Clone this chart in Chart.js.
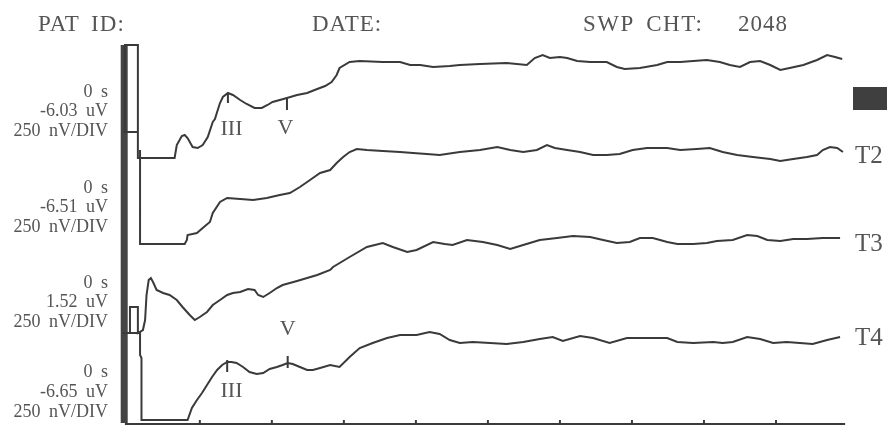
<!DOCTYPE html>
<html>
<head>
<meta charset="utf-8">
<script src="https://cdn.jsdelivr.net/npm/chart.js@4.4.1/dist/chart.umd.min.js"></script>
<style>
  html,body{margin:0;padding:0;background:#fff;}
  #wrap{position:relative;width:889px;height:427px;overflow:hidden;background:#fff;}
  #wrap canvas{position:absolute;left:0;top:0;}
  .t{position:absolute;font-family:"Liberation Serif","DejaVu Serif",serif;color:#555;white-space:nowrap;line-height:1;}
  .hdr{font-size:23px;letter-spacing:1px;}
  .lab{font-size:18px;word-spacing:4px;text-align:right;right:781px;}
  .tr{font-size:25px;left:855px;}
  .mk{font-size:22px;}
  #blk{position:absolute;left:853px;top:87px;width:34px;height:23px;background:#3f3f3f;}
</style>
</head>
<body>
<div id="wrap">
  <canvas id="c" width="889" height="427"></canvas>
  <div class="t hdr" style="left:38px;top:12px;word-spacing:5px;">PAT ID:</div>
  <div class="t hdr" style="left:312px;top:12px;">DATE:</div>
  <div class="t hdr" style="left:583px;top:12px;word-spacing:5px;letter-spacing:1.5px;">SWP CHT:</div>
  <div class="t hdr" style="left:738px;top:12px;">2048</div>
  <div id="blk"></div>
  <div id="leftLabels"></div>
  <div id="rightLabels"></div>
  <div id="markLabels"></div>
</div>
<script>
// ---- time axis (ms) ----
const xMin = -0.15, xMax = 10;
const tickTimes = [1, 2, 3, 4, 5, 6, 7, 8, 9];

// ---- per-trace baselines (uV, vertical stacking offsets) ----
const traceNames = ["T1", "T2", "T3", "T4"];
const traceOffsets = [2.66, 1.80, 0.91, 0.04];

// ---- left side labels ----
const startTimes = ["0 s", "0 s", "0 s", "0 s"];
const startLevels = ["-6.03 uV", "-6.51 uV", "1.52 uV", "-6.65 uV"];
const scaleLabels = ["250 nV/DIV", "250 nV/DIV", "250 nV/DIV", "250 nV/DIV"];

// ---- trace 1 ----
const t1Time = [0.14,-0.04,-0.04,0.14,0.14,0.65,0.68,0.75,0.79,0.83,0.90,0.97,1.04,1.11,1.18,1.21,1.24,1.28,1.32,1.39,1.46,1.56,1.65,1.76,1.86,1.94,2.01,2.11,2.21,2.35,2.49,2.63,2.74,2.83,2.90,2.94,3.08,3.22,3.54,3.78,3.92,4.06,4.24,4.47,4.61,4.89,5.26,5.54,5.65,5.76,5.86,6.00,6.10,6.24,6.42,6.65,6.79,6.90,7.11,7.35,7.49,7.67,7.85,8.04,8.22,8.36,8.50,8.64,8.78,8.92,9.06,9.19,9.38,9.57,9.71,9.82,9.92];
const t1Amp  = [0.26,0.26,1.13,1.13,0,0,0.13,0.22,0.23,0.20,0.11,0.10,0.13,0.21,0.36,0.39,0.46,0.55,0.61,0.65,0.63,0.58,0.54,0.50,0.50,0.53,0.56,0.58,0.60,0.63,0.65,0.69,0.72,0.76,0.83,0.90,0.96,0.97,0.96,0.96,0.93,0.93,0.91,0.92,0.93,0.94,0.95,0.93,1.00,1.03,1.00,1.01,1.00,0.97,0.96,0.96,0.91,0.89,0.90,0.93,0.96,0.96,0.97,0.98,0.96,0.93,0.91,0.96,0.97,0.93,0.88,0.90,0.93,0.98,1.03,1.01,0.99];

// ---- trace 2 ----
const t2Time = [0.17,0.17,0.79,0.82,0.83,0.96,1.04,1.14,1.18,1.28,1.38,1.56,1.74,1.93,2.11,2.25,2.39,2.53,2.67,2.81,2.90,2.99,3.08,3.18,3.32,3.54,3.78,3.96,4.15,4.33,4.61,4.89,5.13,5.31,5.49,5.68,5.82,5.93,6.10,6.28,6.46,6.65,6.83,7.01,7.21,7.49,7.67,7.90,8.08,8.26,8.46,8.68,8.92,9.06,9.24,9.43,9.57,9.65,9.75,9.85,9.93];
const t2Amp  = [0.94,0,0,0.04,0.09,0.11,0.16,0.22,0.31,0.42,0.46,0.45,0.44,0.46,0.49,0.51,0.57,0.64,0.71,0.74,0.81,0.87,0.92,0.95,0.94,0.93,0.92,0.91,0.90,0.89,0.92,0.94,0.97,0.94,0.92,0.94,0.99,0.96,0.94,0.92,0.89,0.89,0.90,0.94,0.96,0.96,0.94,0.95,0.96,0.92,0.89,0.87,0.85,0.83,0.85,0.87,0.89,0.94,0.97,0.96,0.92];

// ---- trace 3 ----
const t3Time = [-0.08,0.03,0.03,0.14,0.14,0.21,0.24,0.26,0.29,0.32,0.35,0.40,0.49,0.58,0.68,0.76,0.86,0.93,1.00,1.10,1.18,1.28,1.38,1.46,1.56,1.67,1.76,1.81,1.88,1.97,2.07,2.15,2.25,2.35,2.49,2.63,2.81,2.85,3.08,3.32,3.54,3.68,3.88,4.01,4.24,4.40,4.51,4.71,4.93,5.13,5.31,5.49,5.72,5.96,6.18,6.42,6.60,6.79,6.97,7.11,7.29,7.49,7.63,7.85,8.04,8.18,8.40,8.60,8.74,8.88,9.06,9.24,9.43,9.65,9.89];
const t3Amp  = [0,0,0.26,0.26,0,0.03,0.13,0.38,0.53,0.55,0.51,0.43,0.40,0.38,0.33,0.26,0.18,0.13,0.16,0.21,0.28,0.33,0.38,0.40,0.41,0.44,0.43,0.38,0.36,0.40,0.45,0.48,0.50,0.52,0.55,0.58,0.63,0.66,0.76,0.86,0.90,0.86,0.81,0.83,0.91,0.89,0.88,0.93,0.91,0.88,0.84,0.88,0.93,0.95,0.97,0.96,0.93,0.90,0.91,0.95,0.95,0.91,0.89,0.89,0.90,0.92,0.93,0.98,0.97,0.93,0.92,0.94,0.94,0.95,0.95];

// ---- trace 4 ----
const t4Time = [-0.08,0.17,0.17,0.19,0.19,0.83,0.89,0.96,1.03,1.10,1.17,1.24,1.31,1.38,1.44,1.51,1.60,1.69,1.79,1.88,1.97,2.07,2.15,2.22,2.29,2.39,2.49,2.57,2.67,2.81,2.94,3.08,3.22,3.40,3.60,3.78,4.01,4.19,4.33,4.47,4.61,4.79,5.03,5.26,5.49,5.72,5.90,6.04,6.28,6.46,6.69,6.93,7.21,7.49,7.63,7.85,8.13,8.26,8.40,8.60,8.78,8.96,9.15,9.33,9.51,9.71,9.89];
const t4Amp  = [0.87,0.87,0.65,0.62,0,0,0.12,0.20,0.27,0.35,0.43,0.50,0.55,0.58,0.58,0.57,0.53,0.48,0.46,0.47,0.51,0.53,0.55,0.57,0.56,0.53,0.50,0.50,0.52,0.55,0.53,0.63,0.72,0.77,0.82,0.85,0.85,0.88,0.86,0.80,0.77,0.78,0.77,0.76,0.78,0.81,0.83,0.79,0.84,0.82,0.77,0.82,0.82,0.82,0.78,0.77,0.78,0.77,0.78,0.83,0.81,0.77,0.78,0.77,0.76,0.80,0.83];

// ---- stimulus artifact band (absolute uV) ----
const stimTime = [-0.05, -0.05];
const stimLevel = [3.79, 0.01];

// ---- wave markers ----
const markTrace = [0, 0, 3, 3];
const markLabel = ["III", "V", "III", "V"];
const markTime = [1.39, 2.21, 1.38, 2.22];
const markTop = [0.65, 0.61, 0.60, 0.64];
const markBottom = [0.55, 0.48, 0.48, 0.52];
const markLabelAmp = [0.30, 0.31, 0.30, 0.92];
const markLabelTime = [1.44, 2.19, 1.44, 2.22];

const traceTimes = [t1Time, t2Time, t3Time, t4Time];
const traceAmps = [t1Amp, t2Amp, t3Amp, t4Amp];

const LINE = "#3a3a3a";
const datasets = [];
traceTimes.forEach((tt, k) => {
  datasets.push({
    label: traceNames[k],
    data: tt.map((t, i) => ({x: t, y: traceAmps[k][i] + traceOffsets[k]})),
    borderColor: LINE, borderWidth: 2, pointRadius: 0, tension: 0, fill: false, clip: false
  });
});
datasets.push({
  label: "stim",
  data: stimTime.map((t, i) => ({x: t, y: stimLevel[i]})),
  borderColor: "#444", borderWidth: 7, pointRadius: 0, fill: false, clip: false, borderCapStyle: "butt"
});
markTime.forEach((t, i) => {
  const off = traceOffsets[markTrace[i]];
  datasets.push({
    label: "mark" + i,
    data: [{x: t, y: markTop[i] + off}, {x: t, y: markBottom[i] + off}],
    borderColor: LINE, borderWidth: 2, pointRadius: 0, fill: false, clip: false
  });
});

// left labels
const ll = document.getElementById("leftLabels");
const grpCenters = [[91,110,130],[187,206,226],[282,301,321],[371,391,411]];
for (let k = 0; k < 4; k++) {
  [startTimes[k], startLevels[k], scaleLabels[k]].forEach((txt, j) => {
    const d = document.createElement("div");
    d.className = "t lab";
    d.style.top = (grpCenters[k][j] - 9) + "px";
    d.textContent = txt;
    ll.appendChild(d);
  });
}
// right labels
const rl = document.getElementById("rightLabels");
const rightCenters = [null, 154, 242, 336];
for (let k = 1; k < 4; k++) {
  const d = document.createElement("div");
  d.className = "t tr";
  d.style.top = (rightCenters[k] - 12) + "px";
  d.textContent = traceNames[k];
  rl.appendChild(d);
}

const axisPlugin = {
  id: "axisPlugin",
  afterDatasetsDraw(chart) {
    const {ctx, scales: {x, y}} = chart;
    const yp = y.getPixelForValue(0);
    ctx.save();
    ctx.strokeStyle = LINE;
    ctx.lineWidth = 2;
    ctx.beginPath();
    ctx.moveTo(x.getPixelForValue(-0.04), yp);
    ctx.lineTo(x.getPixelForValue(9.96), yp);
    ctx.stroke();
    tickTimes.forEach(t => {
      const xp = x.getPixelForValue(t);
      ctx.beginPath();
      ctx.moveTo(xp, yp);
      ctx.lineTo(xp, yp - 4);
      ctx.stroke();
    });
    ctx.restore();
  },
  afterRender(chart) {
    const ml = document.getElementById("markLabels");
    if (ml.childElementCount) return;
    const {x, y} = chart.scales;
    markLabel.forEach((txt, i) => {
      const d = document.createElement("div");
      d.className = "t mk";
      d.textContent = txt;
      ml.appendChild(d);
      const w = d.offsetWidth, h = d.offsetHeight;
      d.style.left = (x.getPixelForValue(markLabelTime[i]) - w / 2) + "px";
      d.style.top = (y.getPixelForValue(markLabelAmp[i] + traceOffsets[markTrace[i]]) - h / 2) + "px";
    });
  }
};

new Chart(document.getElementById("c"), {
  type: "line",
  data: {datasets},
  options: {
    responsive: false,
    animation: false,
    events: [],
    layout: {padding: {left: 117, right: 41, top: 4, bottom: 3}},
    plugins: {legend: {display: false}, tooltip: {enabled: false}},
    scales: {
      x: {type: "linear", min: xMin, max: xMax, display: false},
      y: {type: "linear", min: 0, max: 4.2, display: false}
    }
  },
  plugins: [axisPlugin]
});
</script>
</body>
</html>
